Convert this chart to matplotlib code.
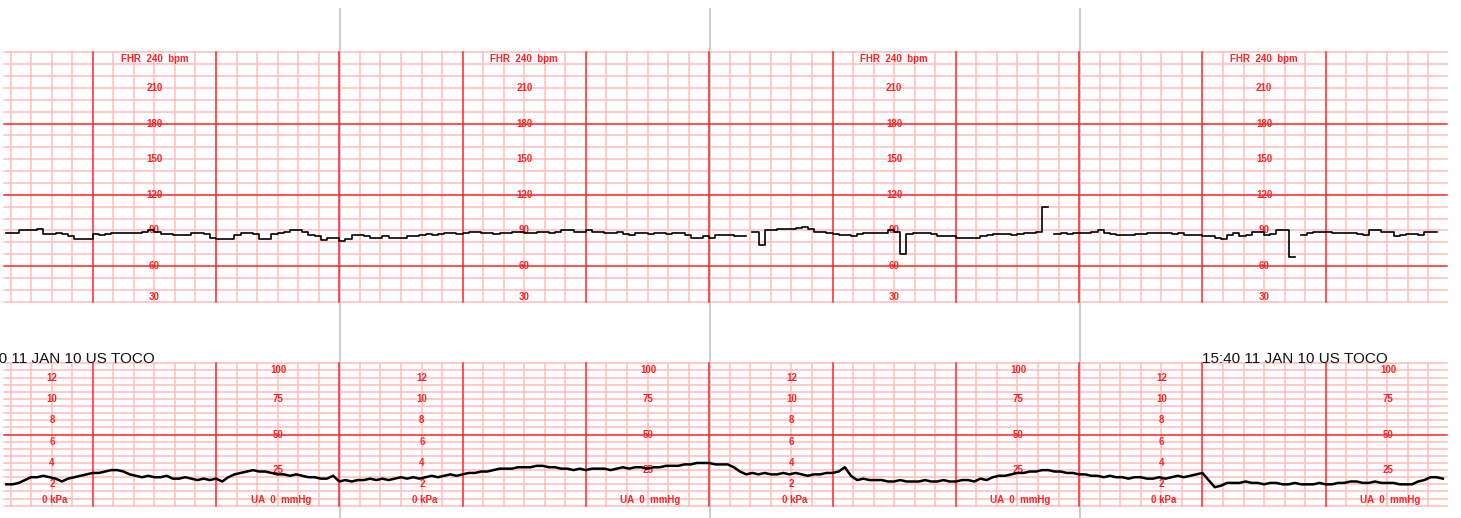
import numpy as np
import matplotlib
matplotlib.use("Agg")
import matplotlib.pyplot as plt
from matplotlib.transforms import blended_transform_factory

# ---------------- data ----------------
sample_start_min = -0.70
sample_step_min = 0.05  # 3 s per sample

fhr_bpm = [
    88, 88, 90, 90, 90, 91, 87, 87, 88, 87,
    85, 83, 83, 83, 87, 86, 87, 88, 88, 88,
    88, 88, 89, 90, 89, 87, 87, 86, 86, 86,
    88, 88, 87, 84, 83, 83, 83, 86, 88, 88,
    87, 83, 83, 87, 88, 89, 90, 90, 89, 86,
    85, 82, 84, 84, 81, 83, 86, 86, 85, 84,
    84, 85, 84, 84, 84, 85, 85, 86, 87, 86,
    87, 88, 88, 87, 88, 89, 89, 88, 88, 87,
    88, 88, 89, 89, 88, 88, 89, 89, 88, 89,
    90, 90, 89, 89, 90, 89, 89, 88, 88, 89,
    87, 86, 88, 88, 87, 88, 88, 87, 88, 88,
    86, 84, 84, 85, 84, 86, 86, 86, 85, 85,
    np.nan, 89, 78, 90, 90, 91, 91, 91, 92, 93,
    91, 89, 89, 88, 87, 86, 86, 85, 87, 88,
    88, 88, 88, 90, 89, 70, 87, 88, 88, 88,
    87, 85, 85, 85, 84, 84, 84, 84, 85, 86,
    87, 87, 87, 86, 87, 88, 88, 89, 110, np.nan,
    87, 88, 87, 88, 88, 88, 89, 90, 88, 87,
    86, 86, 86, 87, 87, 88, 88, 88, 88, 87,
    88, 86, 86, 86, 85, 85, 84, 83, 86, 88,
    85, 86, 89, 89, 86, 87, 90, 90, 68, np.nan,
    86, 88, 89, 89, 89, 88, 88, 88, 88, 87,
    86, 90, 90, 89, 89, 85, 86, 87, 87, 86,
    89, 89, np.nan, np.nan,
]

toco_mmhg = [
    15, 15, 16, 18, 20, 20, 21, 20, 19, 17,
    19, 20, 21, 22, 23, 23, 24, 25, 25, 24,
    22, 21, 20, 21, 20, 20, 21, 19, 19, 20,
    19, 18, 19, 18, 19, 17, 20, 22, 23, 24,
    25, 24, 24, 23, 22, 22, 21, 22, 21, 20,
    20, 19, 19, 21, 17, 18, 17, 18, 18, 19,
    18, 19, 18, 19, 20, 19, 20, 19, 20, 21,
    20, 21, 22, 21, 22, 23, 23, 24, 24, 25,
    26, 26, 26, 27, 27, 27, 28, 28, 27, 27,
    26, 26, 25, 26, 25, 26, 26, 26, 25, 26,
    27, 26, 27, 27, 26, 27, 27, 28, 28, 28,
    29, 29, 30, 30, 30, 29, 29, 29, 27, 24,
    22, 23, 22, 23, 22, 22, 23, 22, 23, 22,
    21, 22, 22, 23, 23, 24, 27, 21, 18, 19,
    18, 18, 18, 17, 17, 18, 17, 17, 17, 18,
    17, 17, 18, 17, 17, 18, 18, 17, 19, 18,
    20, 21, 21, 22, 23, 23, 24, 24, 25, 25,
    24, 24, 23, 23, 22, 22, 21, 21, 20, 21,
    20, 20, 19, 20, 20, 19, 19, 20, 19, 20,
    21, 20, 21, 22, 23, 18, 13, 14, 16, 16,
    16, 17, 16, 16, 15, 16, 16, 15, 15, 16,
    15, 15, 15, 16, 15, 15, 16, 16, 17, 17,
    16, 16, 17, 16, 16, 16, 15, 15, 15, 17,
    18, 20, 20, 19,
]

fhr_scale_labels = [210, 180, 150, 120, 90, 60, 30]
kpa_scale_labels = [12, 10, 8, 6, 4, 2]
mmhg_scale_labels = [75, 50, 25]
page_starts_min = [-1, 2, 5, 8]
page_separators_min = [2, 5, 8]
header_text = "15:40 11 JAN 10 US TOCO"
header_starts_min = [-1, 9]

# ---------------- layout ----------------
W, H = 1461, 518
fig = plt.figure(figsize=(W / 100, H / 100), dpi=100)

PX_PER_MIN = 123.3
X0_PX = 92.7  # pixel of minute 0
left_px, right_px = 4, 1447
xlim = ((left_px - X0_PX) / PX_PER_MIN, (right_px - X0_PX) / PX_PER_MIN)


def add_axes_px(top, bottom):
    return fig.add_axes([left_px / W, (H - bottom) / H,
                         (right_px - left_px) / W, (bottom - top) / H])


ax_fhr = add_axes_px(52.3, 301.7)
ax_toco = add_axes_px(363.3, 505.7)

RED = "#ff2424"
PINK = "#ffbcbc"
GREY = "#cfcfcf"
LW = 1.1

minor_x = np.arange(-4, 66) / 6.0
major_x = np.arange(0, 11)

for ax, ylim, minor_step, majors in (
        (ax_fhr, (30, 240), 10, [60, 120, 180]),
        (ax_toco, (0, 100), 5, [50])):
    ax.set_xlim(*xlim)
    ax.set_ylim(*ylim)
    ax.axis("off")
    for y in np.arange(ylim[0], ylim[1] + 0.1, minor_step):
        if y in majors:
            continue
        ax.axhline(y, color=PINK, lw=LW, zorder=1, clip_on=False)
    for x in minor_x:
        if abs(x - round(x)) < 1e-6:
            continue
        ax.axvline(x, color=PINK, lw=LW, zorder=1, clip_on=False)
    for y in majors:
        ax.axhline(y, color=RED, lw=LW, zorder=2, clip_on=False)
    for x in major_x:
        ax.axvline(x, color=RED, lw=LW, zorder=2, clip_on=False)

# page separators spanning the whole sheet
trans_sep = blended_transform_factory(ax_fhr.transData, fig.transFigure)
for x in page_separators_min:
    fig.add_artist(plt.Line2D([x + 0.004, x + 0.004], [0, (H - 9) / H],
                              transform=trans_sep, color=GREY, lw=1.5, zorder=0))

# ---------------- traces ----------------
t = sample_start_min + sample_step_min * np.arange(len(fhr_bpm))
ax_fhr.plot(t, np.array(fhr_bpm, dtype=float), color="black", lw=1.2,
            drawstyle="steps-post", zorder=5)
t2 = sample_start_min + sample_step_min * np.arange(len(toco_mmhg))
ax_toco.plot(t2, np.array(toco_mmhg, dtype=float), color="black", lw=1.8,
             zorder=5)

# ---------------- scale labels ----------------
lab_kw = dict(color=RED, fontsize=7, family="Liberation Sans",
              weight="bold", ha="center", va="center", zorder=4)
for p in page_starts_min:
    xc = p + 1.5
    ax_fhr.text(xc, 234.4, "FHR  240  bpm", **lab_kw)
    for v in fhr_scale_labels:
        yv = v if v != 30 else 34.2
        ax_fhr.text(xc, yv, str(v), **lab_kw)
    xk = p + 0.67
    for v in kpa_scale_labels:
        ax_toco.text(xk, v * 7.5, str(v), **lab_kw)
    ax_toco.text(xk + 0.02, 4, "0 kPa", **lab_kw)
    xm = p + 2.505
    ax_toco.text(xm, 95.3, "100", **lab_kw)
    for v in mmhg_scale_labels:
        ax_toco.text(xm, v, str(v), **lab_kw)
    ax_toco.text(xm + 0.02, 4, "UA  0  mmHg", **lab_kw)

for s in header_starts_min:
    ax_toco.text(s, 1.005, header_text, transform=blended_transform_factory(
        ax_toco.transData, ax_toco.transAxes), ha="left", va="baseline",
        fontsize=11, family="Liberation Sans", color="#111111", clip_on=False)

fig.savefig("out.png", dpi=100)
